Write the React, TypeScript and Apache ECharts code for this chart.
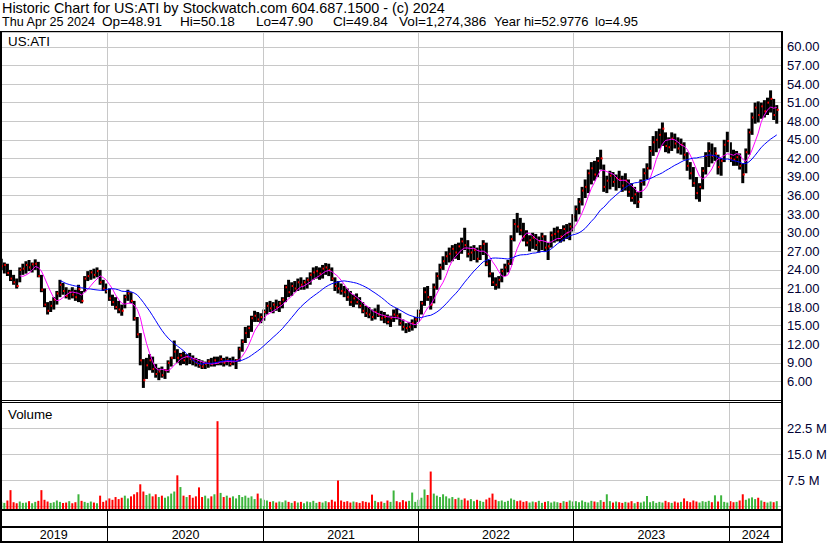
import React, { useEffect, useRef } from 'react';
import * as echarts from 'echarts';

// Weekly summary of the daily price bars (USD) (Apr 2019 - Apr 2024)
const LOW = [
  24.0, 23.4, 23.0, 22.2, 21.6, 21.0, 22.0, 23.2, 23.4, 23.8,
  23.6, 24.0, 22.8, 20.4, 18.0, 16.8, 17.2, 17.6, 18.4, 19.6,
  20.0, 19.4, 19.2, 19.4, 19.0, 18.8, 18.6, 20.4, 22.2, 22.4,
  22.6, 22.8, 21.6, 20.6, 20.2, 19.0, 18.2, 17.6, 17.0, 16.6,
  17.8, 19.0, 18.6, 15.8, 13.0, 8.6, 4.95, 6.4, 7.8, 7.4,
  6.6, 6.2, 6.6, 6.4, 7.4, 8.4, 9.6, 9.0, 8.6, 8.8,
  8.6, 8.8, 8.6, 8.4, 8.2, 8.0, 8.0, 8.2, 8.4, 8.4,
  8.6, 8.6, 8.4, 8.6, 8.4, 8.6, 8.0, 9.2, 10.8, 12.2,
  13.0, 14.0, 15.6, 15.6, 15.4, 15.8, 16.8, 17.2, 17.0, 17.4,
  17.2, 17.8, 18.8, 19.6, 19.8, 20.4, 20.6, 20.8, 20.8, 21.0,
  21.6, 22.4, 22.6, 22.4, 22.6, 23.2, 23.0, 22.2, 20.6, 20.2,
  20.0, 19.6, 19.0, 18.2, 18.0, 18.4, 17.8, 17.0, 16.4, 16.2,
  15.8, 16.0, 16.4, 15.8, 15.4, 15.2, 14.8, 15.6, 16.0, 15.0,
  14.2, 13.8, 14.0, 14.2, 14.6, 15.6, 16.8, 18.2, 19.0, 17.6,
  18.6, 20.8, 22.4, 24.0, 24.8, 25.2, 25.4, 25.8, 25.6, 26.6,
  27.2, 26.0, 25.4, 25.6, 25.2, 25.6, 26.4, 24.6, 22.8, 21.4,
  20.8, 21.0, 22.0, 23.0, 23.6, 24.8, 28.6, 30.0, 29.6, 28.6,
  27.8, 27.0, 27.4, 27.2, 26.8, 27.2, 27.0, 25.6, 27.6, 28.4,
  28.6, 28.4, 28.6, 29.0, 28.8, 30.2, 31.8, 33.0, 34.4, 35.6,
  36.4, 37.8, 38.4, 39.0, 40.2, 36.6, 36.4, 37.0, 37.4, 36.8,
  37.2, 36.6, 36.8, 35.8, 35.0, 34.6, 34.0, 35.6, 37.6, 38.6,
  40.2, 42.4, 43.0, 43.6, 44.0, 43.0, 42.8, 43.2, 43.6, 42.8,
  42.6, 41.8, 40.0, 38.6, 37.4, 35.4, 35.0, 37.0, 39.4, 40.6,
  41.2, 41.6, 39.4, 39.2, 41.4, 43.0, 41.4, 40.8, 40.8, 40.2,
  38.0, 39.6, 42.6, 45.8, 47.6, 47.8, 48.4, 48.6, 49.0, 49.4,
  48.2, 47.6,
];
const HIGH = [
  25.8, 25.2, 25.0, 24.0, 23.2, 22.6, 24.4, 25.0, 25.4, 25.6,
  25.2, 25.7, 25.3, 23.2, 21.0, 18.8, 19.0, 19.6, 20.6, 22.4,
  21.9, 21.2, 20.8, 21.2, 20.8, 21.6, 20.6, 23.0, 23.8, 24.0,
  24.2, 24.4, 24.0, 22.4, 21.8, 21.0, 20.0, 19.6, 19.0, 18.4,
  20.0, 20.8, 20.4, 19.0, 16.4, 13.8, 9.6, 9.8, 10.4, 10.0,
  8.8, 8.2, 8.4, 8.0, 9.4, 10.0, 12.6, 11.2, 10.6, 10.8,
  10.4, 10.6, 10.2, 9.8, 9.6, 9.4, 9.2, 9.6, 9.8, 10.0,
  10.0, 10.2, 9.8, 10.0, 9.8, 10.0, 9.6, 11.6, 12.8, 14.8,
  15.0, 16.6, 17.4, 17.2, 17.0, 17.6, 18.8, 19.0, 18.8, 19.2,
  19.0, 19.6, 21.6, 22.4, 22.0, 22.2, 22.6, 22.8, 22.4, 22.8,
  23.6, 24.4, 24.6, 24.4, 24.8, 25.1, 25.0, 24.4, 22.8, 22.2,
  21.8, 21.4, 21.0, 20.6, 20.0, 20.2, 19.6, 18.8, 18.2, 18.0,
  17.6, 17.8, 18.4, 17.4, 17.2, 16.8, 16.6, 17.6, 17.8, 17.0,
  16.0, 15.4, 15.6, 16.0, 16.4, 17.6, 19.0, 21.2, 21.4, 19.8,
  21.8, 23.6, 25.0, 26.2, 27.0, 27.6, 28.0, 28.2, 28.4, 29.2,
  30.8, 28.8, 27.8, 28.0, 27.6, 28.0, 28.8, 28.4, 25.6, 23.6,
  22.8, 23.0, 24.2, 25.0, 25.6, 29.6, 32.2, 33.2, 32.4, 31.6,
  30.4, 29.6, 30.0, 29.8, 29.4, 30.0, 29.6, 28.4, 30.2, 30.8,
  31.0, 30.6, 31.2, 31.4, 31.6, 33.0, 34.4, 35.6, 37.4, 38.6,
  40.2, 41.4, 41.6, 42.2, 43.4, 41.0, 39.2, 40.0, 39.8, 39.4,
  40.0, 39.2, 39.6, 38.6, 38.0, 37.4, 36.6, 38.6, 40.4, 41.2,
  44.0, 45.6, 46.4, 46.8, 47.8, 46.2, 45.4, 46.2, 46.0, 45.4,
  45.2, 44.6, 43.0, 41.4, 40.6, 39.0, 38.0, 40.6, 43.0, 44.6,
  44.4, 43.8, 42.6, 42.0, 45.0, 46.3, 44.6, 43.4, 43.2, 42.8,
  41.2, 43.6, 46.8, 49.4, 51.0, 51.2, 51.0, 51.4, 51.8, 52.98,
  51.6, 50.6,
];
const CLOSE = [
  24.6, 24.8, 23.5, 22.6, 22.0, 21.4, 24.0, 24.2, 24.8, 24.4,
  24.9, 25.0, 23.0, 20.8, 18.4, 17.4, 18.2, 19.2, 20.2, 21.6,
  20.6, 19.8, 20.4, 20.0, 19.6, 20.9, 19.0, 22.6, 23.0, 23.6,
  23.2, 23.8, 22.0, 21.0, 20.6, 19.4, 18.8, 18.0, 17.6, 17.4,
  19.6, 20.2, 19.0, 16.2, 13.6, 9.4, 6.2, 8.6, 9.4, 8.0,
  7.2, 7.6, 7.0, 7.8, 9.0, 9.8, 10.8, 9.8, 10.2, 9.4,
  10.0, 9.6, 9.4, 9.0, 8.6, 8.4, 8.8, 9.2, 8.8, 9.4,
  9.0, 9.6, 9.0, 9.4, 8.8, 9.2, 9.4, 11.2, 12.4, 13.8,
  14.6, 16.2, 16.6, 16.0, 16.4, 17.2, 18.2, 17.8, 18.4, 18.0,
  18.6, 19.2, 21.2, 20.4, 21.4, 21.0, 22.0, 21.6, 22.0, 22.4,
  23.2, 23.6, 23.8, 23.4, 24.2, 24.4, 24.0, 22.6, 21.4, 21.0,
  20.6, 20.4, 19.6, 18.8, 19.4, 18.8, 18.2, 17.4, 17.0, 16.8,
  16.4, 17.2, 16.8, 16.2, 16.4, 15.6, 16.2, 16.8, 16.6, 15.4,
  14.8, 14.6, 14.8, 15.4, 16.0, 17.2, 18.6, 20.4, 19.6, 18.4,
  21.2, 23.0, 24.4, 25.4, 26.2, 26.6, 27.4, 26.8, 27.8, 28.6,
  28.0, 26.6, 26.8, 27.2, 25.8, 27.6, 28.2, 25.0, 23.4, 22.0,
  21.6, 22.4, 23.8, 24.4, 25.0, 29.0, 31.4, 31.0, 30.4, 29.4,
  28.4, 28.8, 29.2, 28.0, 28.6, 29.4, 27.6, 27.8, 29.6, 29.8,
  30.2, 29.4, 30.6, 30.0, 31.0, 32.6, 33.8, 35.0, 36.8, 37.4,
  39.6, 40.4, 39.4, 41.6, 42.0, 37.4, 38.4, 39.2, 38.2, 38.8,
  38.6, 37.6, 38.4, 36.6, 35.6, 36.2, 35.0, 38.2, 39.6, 40.4,
  43.2, 44.6, 45.0, 45.8, 46.8, 44.0, 43.8, 45.2, 44.4, 43.6,
  44.2, 42.6, 40.8, 39.6, 38.0, 36.4, 37.4, 40.0, 42.4, 43.2,
  42.4, 42.8, 40.6, 41.6, 44.2, 44.8, 42.0, 41.8, 42.2, 40.8,
  39.4, 43.0, 46.2, 48.6, 50.2, 49.0, 50.4, 49.6, 51.0, 51.6,
  49.0, 49.84,
];
// Typical daily volume per week, millions of shares
const VOLUME_M = [
  1.2, 0.9, 1.6, 4.6, 1.1, 0.8, 1.3, 0.9, 1.0, 1.4,
  0.8, 1.2, 1.5, 4.6, 1.8, 1.3, 0.9, 1.1, 1.6, 1.2,
  0.9, 1.0, 1.4, 0.8, 1.1, 3.4, 1.5, 1.2, 0.9, 1.3,
  1.0, 0.8, 3.0, 1.2, 1.6,
  2.2, 1.8, 2.6, 2.0, 2.4, 3.0, 2.2, 2.8, 3.4, 4.0,
  6.3, 4.2, 3.2, 3.6, 2.8, 3.4, 2.6, 3.0, 2.4, 2.8,
  3.6, 4.2, 8.9, 5.5, 3.0, 2.6, 3.2, 2.4, 2.8, 5.4,
  2.6, 3.0, 2.2, 2.8, 3.4, 24.6, 3.8, 2.6, 3.0, 2.4,
  2.8, 2.2, 3.2, 2.6, 3.0, 2.4, 2.8, 2.0, 3.6, 2.2, 1.8,
  1.6, 1.2, 1.4, 1.0, 1.3, 1.1, 1.6, 1.2, 0.9, 1.4,
  1.0, 1.2, 0.8, 1.3, 1.1, 1.5, 0.9, 1.2, 1.0, 1.4,
  1.1, 1.8, 1.3, 7.4, 1.6, 1.2, 1.4, 1.0, 1.3, 1.1,
  0.9, 1.4, 1.2, 1.0, 3.3, 1.5, 1.1, 1.3, 0.9, 1.6,
  1.2, 4.5, 1.4, 1.1, 1.7, 1.3, 1.5, 3.9, 1.2, 1.8,
  2.4, 4.8, 3.2, 10.0, 3.6, 3.0, 2.6, 3.4, 2.8, 2.2,
  2.6, 2.0, 2.4, 1.8, 2.2, 1.6, 2.0, 1.4, 1.8, 1.5,
  1.2, 1.9, 2.4, 3.6, 1.8, 1.4, 1.6, 1.2, 1.5, 2.2,
  1.8, 1.4, 1.6, 1.2, 1.4, 1.0, 1.3, 1.1, 1.5, 0.9,
  1.2, 1.4, 1.0, 1.3, 1.1, 0.9, 1.4, 1.2, 1.6, 1.3,
  1.4, 1.1, 1.6, 1.2, 1.0, 1.5, 1.3, 1.1, 1.7, 1.2,
  3.4, 1.4, 1.0, 1.3, 1.1, 0.9, 1.2, 1.0, 1.4, 0.8,
  1.2, 1.0, 1.3, 2.9, 1.1, 1.4, 0.9, 1.2, 1.0, 1.5,
  1.1, 0.9, 1.3, 1.0, 1.2, 2.2, 1.4, 1.1, 1.6, 1.3,
  1.0, 1.4, 1.2, 1.5, 1.1, 3.1, 1.3, 3.1, 1.2, 1.0,
  1.4, 1.1, 1.2, 1.6, 3.4, 1.8, 2.2, 2.5, 2.0, 2.4,
  1.6, 1.2, 1.0, 1.3, 1.1, 1.4,
];

// Week index where each calendar year begins
const YEAR_STARTS = [34.39, 84.92, 135.11, 185.15, 235.67];
const YEAR_LABELS = ['2019', '2020', '2021', '2022', '2023', '2024'];
const X_MIN = -0.4;
const X_MAX = 252.7;

const HEADER_LINE1 = 'Historic Chart for US:ATI by Stockwatch.com 604.687.1500 - (c) 2024';
const HEADER_FIELDS = ['Thu Apr 25 2024', 'Op=48.91', 'Hi=50.18', 'Lo=47.90', 'Cl=49.84', 'Vol=1,274,386', 'Year hi=52.9776', 'lo=4.95'];
const HEADER_FIELD_X = [2, 102, 180, 256, 333, 399, 494, 595];
const HEADER_FIELD_SIZE = [12.6, 13.6, 13.6, 13.6, 13.6, 13.6, 13, 13];

const FAST_MA = 6; // weeks (~30 trading days)
const SLOW_MA = 20; // weeks (~100 trading days)
const FAST_MA_START = 6;
const SLOW_MA_START = 19;

const FONT = '"Liberation Sans", Arial, sans-serif';
const GRID_COLOR = '#c8c8c8';
const LABEL_COLOR = '#000033';

function sma(values: number[], n: number, start: number): number[][] {
  const out: number[][] = [];
  for (let i = start; i < values.length; i++) {
    const from = Math.max(0, i - n + 1);
    let s = 0;
    for (let j = from; j <= i; j++) s += values[j];
    out.push([i, s / (i - from + 1)]);
  }
  return out;
}

export default function App() {
  const ref = useRef<HTMLDivElement>(null);

  useEffect(() => {
    if (!ref.current) return;
    const chart = echarts.init(ref.current, undefined, { renderer: 'svg' });

    const ohlc = CLOSE.map((c, i) => [i, HIGH[i], LOW[i], c]);
    const vol = VOLUME_M.map((v, i) => [i, v, i === 0 || CLOSE[i] >= CLOSE[i - 1] ? 1 : 0]);
    const bounds = [X_MIN, ...YEAR_STARTS, X_MAX];
    const yearCenters = YEAR_LABELS.map((t, i) => [(bounds[i] + bounds[i + 1]) / 2, 0.23, i]);

    const gridMark = (color: string) => ({
      silent: true,
      symbol: ['none', 'none'],
      label: { show: false },
      emphasis: { disabled: true },
      lineStyle: { color, width: 1, type: 'solid' },
      data: YEAR_STARTS.map((v) => ({ xAxis: v })),
    });

    const text = (t: string, x: number, y: number, size: number) => ({
      type: 'text',
      x,
      y,
      z: 100,
      style: { text: t, fill: '#000000', font: `${size}px ${FONT}`, verticalAlign: 'middle' },
    });
    const bar = (x: number, y: number, w: number, h: number) => ({
      type: 'rect',
      z: 100,
      shape: { x, y, width: w, height: h },
      style: { fill: '#000000' },
    });

    const option: any = {
      animation: false,
      backgroundColor: '#ffffff',
      grid: [
        { left: 0, top: 32, width: 782, height: 368 },
        { left: 0, top: 402, width: 782, height: 104 },
        { left: 0, top: 510, width: 782, height: 32 },
      ],
      xAxis: [0, 1, 2].map((g) => ({ type: 'value', gridIndex: g, min: X_MIN, max: X_MAX, show: false })),
      yAxis: [
        {
          type: 'value',
          gridIndex: 0,
          position: 'right',
          min: 3,
          max: 62.4,
          interval: 3,
          axisLine: { show: false },
          axisTick: { show: false },
          axisLabel: {
            margin: 5,
            color: LABEL_COLOR,
            fontSize: 13,
            fontFamily: FONT,
            formatter: (v: number) => (v > 5.9 && v < 60.1 ? v.toFixed(2) : ''),
          },
          splitLine: { lineStyle: { color: GRID_COLOR, width: 1 } },
        },
        {
          type: 'value',
          gridIndex: 1,
          position: 'right',
          min: 0,
          max: 30.17,
          interval: 7.5,
          axisLine: { show: false },
          axisTick: { show: false },
          axisLabel: {
            margin: 5,
            color: LABEL_COLOR,
            fontSize: 13,
            fontFamily: FONT,
            formatter: (v: number) => (v > 1 && v < 29 ? `${v.toFixed(1)} M` : ''),
          },
          splitLine: { lineStyle: { color: GRID_COLOR, width: 1 } },
        },
        { type: 'value', gridIndex: 2, min: 0, max: 1, show: false },
      ],
      series: [
        { type: 'line', xAxisIndex: 0, yAxisIndex: 0, data: [], silent: true, markLine: gridMark(GRID_COLOR) },
        { type: 'line', xAxisIndex: 1, yAxisIndex: 1, data: [], silent: true, markLine: gridMark(GRID_COLOR) },
        { type: 'line', xAxisIndex: 2, yAxisIndex: 2, data: [], silent: true, markLine: gridMark('#000000') },
        {
          type: 'custom',
          name: 'Price',
          xAxisIndex: 0,
          yAxisIndex: 0,
          silent: true,
          data: ohlc,
          encode: { x: 0, y: [1, 2, 3] },
          renderItem: (_p: any, api: any) => {
            const i = api.value(0);
            const pH = api.coord([i, api.value(1)]);
            const pL = api.coord([i, api.value(2)]);
            const pC = api.coord([i, api.value(3)]);
            return {
              type: 'group',
              children: [
                {
                  type: 'rect',
                  shape: { x: pH[0] - 1.5, y: pH[1], width: 3, height: Math.max(1, pL[1] - pH[1]) },
                  style: { fill: '#000000' },
                },
                {
                  type: 'rect',
                  shape: { x: pC[0], y: pC[1] - 1, width: 2, height: 2 },
                  style: { fill: '#ff0000' },
                },
              ],
            };
          },
        },
        {
          type: 'line',
          name: 'MA fast',
          xAxisIndex: 0,
          yAxisIndex: 0,
          data: sma(CLOSE, FAST_MA, FAST_MA_START),
          showSymbol: false,
          symbol: 'none',
          silent: true,
          lineStyle: { color: '#ff00ff', width: 1 },
          z: 5,
        },
        {
          type: 'line',
          name: 'MA slow',
          xAxisIndex: 0,
          yAxisIndex: 0,
          data: sma(CLOSE, SLOW_MA, SLOW_MA_START),
          showSymbol: false,
          symbol: 'none',
          silent: true,
          lineStyle: { color: '#0000ff', width: 1 },
          z: 5,
        },
        {
          type: 'custom',
          name: 'Volume',
          xAxisIndex: 1,
          yAxisIndex: 1,
          silent: true,
          data: vol,
          encode: { x: 0, y: 1 },
          renderItem: (_p: any, api: any) => {
            const i = api.value(0);
            const top = api.coord([i, api.value(1)]);
            const base = api.coord([i, 0]);
            return {
              type: 'rect',
              shape: { x: top[0] - 1, y: top[1], width: 2, height: base[1] - top[1] + 3 },
              style: { fill: api.value(2) ? '#3cb43c' : '#ff0000' },
            };
          },
        },
        {
          type: 'custom',
          name: 'Years',
          xAxisIndex: 2,
          yAxisIndex: 2,
          silent: true,
          data: yearCenters,
          encode: { x: 0, y: 1 },
          renderItem: (_p: any, api: any) => {
            const p = api.coord([api.value(0), api.value(1)]);
            return {
              type: 'text',
              x: p[0],
              y: p[1],
              style: {
                text: YEAR_LABELS[api.value(2)],
                fill: '#000000',
                font: `12.5px ${FONT}`,
                align: 'center',
                verticalAlign: 'middle',
              },
            };
          },
        },
      ],
      graphic: [
        text(HEADER_LINE1, 2, 7.5, 14.4),
        ...HEADER_FIELDS.map((f, i) => text(f, HEADER_FIELD_X[i], 21.5, HEADER_FIELD_SIZE[i])),
        text('US:ATI', 8, 41.5, 13.33),
        text('Volume', 8, 414, 13.33),
        bar(0, 31, 783, 1),
        bar(0, 31, 2, 512),
        bar(781, 31, 2, 512),
        bar(0, 400, 782, 1),
        bar(0, 402, 782, 1),
        bar(0, 509, 782, 2),
        bar(0, 526, 782, 2),
        bar(0, 541, 783, 2),
      ],
    };

    chart.setOption(option);
    return () => chart.dispose();
  }, []);

  return <div ref={ref} style={{ position: 'absolute', left: 0, top: 0, width: 830, height: 543 }} />;
}
